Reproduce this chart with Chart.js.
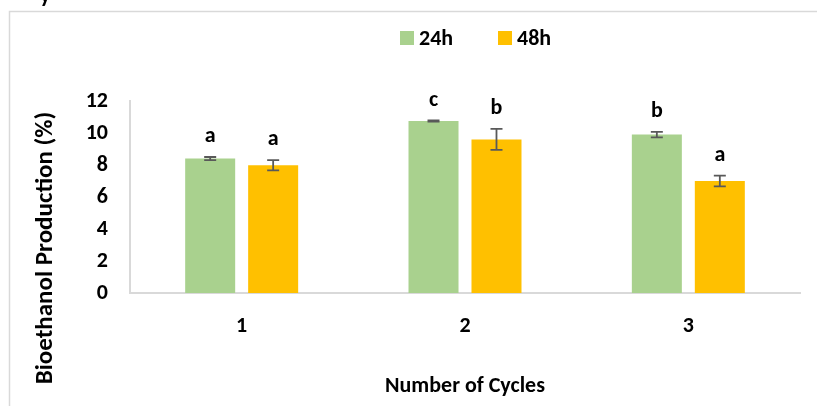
<!DOCTYPE html>
<html>
<head>
<meta charset="utf-8">
<script src="https://cdn.jsdelivr.net/npm/chart.js@4"></script>
<style>
  body { margin: 0; background: #fff; }
  #wrap { width: 817px; height: 406px; position: relative; }
</style>
</head>
<body>
<div id="wrap"><canvas id="bioChart" width="817" height="406"></canvas></div>
<script>
// data
const cycles = ["1", "2", "3"];
const seriesNames = ["24h", "48h"];
const values24h = [8.4, 10.75, 9.9];
const values48h = [7.98, 9.6, 7.0];
const err24h = [0.1, 0.03, 0.17];
const err48h = [0.32, 0.66, 0.34];
const letters24h = ["a", "c", "b"];
const letters48h = ["a", "b", "a"];
const yTickValues = [0, 2, 4, 6, 8, 10, 12];

const FONT = "Carlito, Lato, 'Liberation Sans', sans-serif";

// outer frame of the excel chart (and the cut-off text line above it)
const framePlugin = {
  id: 'frame',
  beforeDraw(chart) {
    const ctx = chart.ctx;
    ctx.save();
    ctx.fillStyle = '#fff';
    ctx.fillRect(0, 0, chart.width, chart.height);
    ctx.strokeStyle = '#d9d9d9';
    ctx.lineWidth = 1.5;
    ctx.strokeRect(9.5, 11.5, chart.width, chart.height);
    ctx.fillStyle = '#000';
    ctx.font = 'bold 22px ' + FONT;
    ctx.fillText('y', 40, 2);
    ctx.restore();
  }
};

// error bars + significance letters
const errorPlugin = {
  id: 'errors',
  afterDatasetsDraw(chart) {
    const ctx = chart.ctx;
    const yScale = chart.scales.y;
    ctx.save();
    chart.data.datasets.forEach((ds, di) => {
      const meta = chart.getDatasetMeta(di);
      meta.data.forEach((bar, i) => {
        const v = ds.data[i], e = ds.errors[i];
        const yTop = yScale.getPixelForValue(v + e);
        const yBot = yScale.getPixelForValue(v - e);
        ctx.strokeStyle = '#595959';
        ctx.lineWidth = 1.8;
        ctx.beginPath();
        ctx.moveTo(bar.x, yTop); ctx.lineTo(bar.x, yBot);
        ctx.moveTo(bar.x - 6, yTop); ctx.lineTo(bar.x + 6, yTop);
        ctx.moveTo(bar.x - 6, yBot); ctx.lineTo(bar.x + 6, yBot);
        ctx.stroke();
        ctx.fillStyle = '#000';
        ctx.font = 'bold 22px ' + FONT;
        ctx.textAlign = 'center';
        ctx.textBaseline = 'alphabetic';
        ctx.fillText(ds.letters[i], bar.x, yTop - 15);
      });
    });
    ctx.restore();
  }
};

// legend and y title placed like the original
const textPlugin = {
  id: 'texts',
  afterDraw(chart) {
    const ctx = chart.ctx;
    ctx.save();
    ctx.font = 'bold 22px ' + FONT;
    ctx.textBaseline = 'alphabetic';
    ctx.textAlign = 'left';
    let x = 400;
    chart.data.datasets.forEach(ds => {
      ctx.fillStyle = ds.backgroundColor;
      ctx.fillRect(x, 31, 14, 14);
      ctx.fillStyle = '#000';
      ctx.fillText(ds.label, x + 19, 45);
      x += 98;
    });
    ctx.translate(46, 248);
    ctx.rotate(-Math.PI / 2);
    ctx.textAlign = 'center';
    ctx.textBaseline = 'middle';
    ctx.font = 'bold 25px ' + FONT;
    ctx.fillText('Bioethanol Production (%)', 0, 0);
    ctx.restore();
  }
};

const ctx = document.getElementById('bioChart').getContext('2d');
new Chart(ctx, {
  type: 'bar',
  data: {
    labels: cycles,
    datasets: [{
      label: seriesNames[0],
      data: values24h,
      errors: err24h,
      letters: letters24h,
      backgroundColor: '#a9d18e',
      categoryPercentage: 0.564,
      barPercentage: 0.794
    }, {
      label: seriesNames[1],
      data: values48h,
      errors: err48h,
      letters: letters48h,
      backgroundColor: '#ffc000',
      categoryPercentage: 0.564,
      barPercentage: 0.794
    }]
  },
  options: {
    responsive: false,
    animation: false,
    layout: { padding: { top: 101, right: 17, left: 0, bottom: 0 } },
    plugins: {
      legend: { display: false },
      tooltip: { enabled: false }
    },
    scales: {
      x: {
        grid: { display: false, drawTicks: false },
        border: { color: '#d9d9d9', width: 2 },
        ticks: { color: '#000', font: { family: FONT, size: 22, weight: 'bold' }, padding: 20 },
        title: {
          display: true, text: 'Number of Cycles', color: '#000',
          font: { family: FONT, size: 22, weight: 'bold' },
          padding: { top: 6, bottom: 6 }
        },
        afterFit(scale) { scale.height = 113; }
      },
      y: {
        min: 0, max: 12,
        afterBuildTicks(scale) { scale.ticks = yTickValues.map(v => ({ value: v })); },
        grid: { display: false, drawTicks: false },
        border: { color: '#d9d9d9', width: 2 },
        ticks: { color: '#000', font: { family: FONT, size: 22, weight: 'bold' }, padding: 22 },
        afterFit(scale) { scale.width = 130; }
      }
    }
  },
  plugins: [framePlugin, errorPlugin, textPlugin]
});
</script>
</body>
</html>
